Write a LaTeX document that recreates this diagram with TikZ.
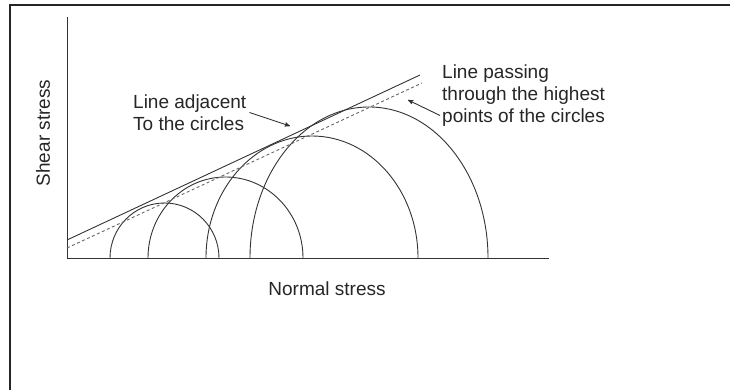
\documentclass[tikz,border=0pt]{standalone}
\usepackage{fontspec}
\setmainfont{Liberation Sans}
\usetikzlibrary{arrows}

\begin{document}
\begin{tikzpicture}[x=1pt,y=1pt,
  lbl/.style={inner sep=0, font=\fontsize{19}{22}\selectfont, text=black!85},
  ink/.style={black!80, line width=0.9pt}]
\useasboundingbox (-67,-132) rectangle (663,258);
\draw[black!85, line width=1.4pt] (-57,-132) -- (-57,253) -- (663,253);
% axes
\coordinate (O) at (0,0);
\draw[ink] (0,241) -- (O) -- (482,0);
\foreach \c/\rx/\ry in {97.5/54.5/55, 158.5/77.5/81, 245/106/122, 302/119/151} {
 \draw[ink] (\c+\rx,0) arc[start angle=0, end angle=180, x radius=\rx, y radius=\ry];
}
\draw[ink] (0,18) -- (353,183);
\draw[ink, black!60, dash pattern=on 3pt off 2.5pt] (0,10) -- (355,175);
\node[lbl, rotate=90] (shear) at (-24,125) {Shear stress};
\node[lbl] (normal) at (260,-31) {Normal stress};
\node[lbl, anchor=west, align=left] (adj) at (66,145.5) {Line adjacent\\To the circles};
\node[lbl, anchor=west, align=left] (pass) at (375,162.5) {Line passing\\through the highest\\points of the circles};
\coordinate (adjtip) at (223,132);
\coordinate (passtip) at (341,158);
\draw[ink, ->, >=stealth'] ([xshift=3pt]adj.east) -- (adjtip);
\draw[ink, ->, >=stealth'] ([yshift=-20pt, xshift=-2pt]pass.west) -- (passtip);
\end{tikzpicture}
\end{document}
